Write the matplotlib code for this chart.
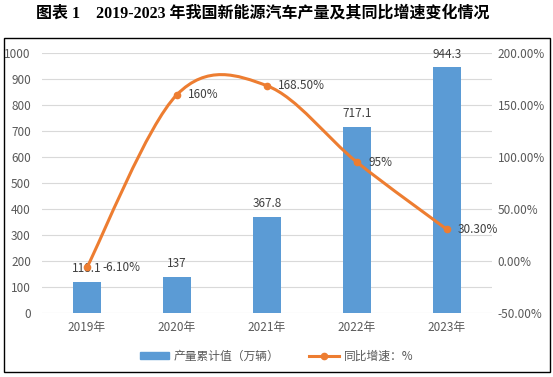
import numpy as np
import matplotlib
matplotlib.use("Agg")
import matplotlib.pyplot as plt
from matplotlib.path import Path
from matplotlib.patches import PathPatch, Rectangle
from matplotlib.lines import Line2D
from matplotlib.patches import Patch

plt.rcParams['font.family'] = ['Noto Sans CJK SC', 'DejaVu Sans']

years = ['2019年', '2020年', '2021年', '2022年', '2023年']
output = [118.1, 137, 367.8, 717.1, 944.3]          # 产量累计值（万辆）
growth = [-6.1, 160, 168.5, 95, 30.3]               # 同比增速 %
growth_labels = ['-6.10%', '160%', '168.50%', '95%', '30.30%']
left_ticks = list(range(0, 1001, 100))
right_ticks = [-50, 0, 50, 100, 150, 200]

bar_color = '#5B9BD5'
line_color = '#ED7D31'
text_color = '#595959'

fig = plt.figure(figsize=(5.53, 3.77), dpi=100)

# outer frame
fig.patches.append(Rectangle((4 / 553, 1 - 372 / 377), 546 / 553, 334 / 377,
                             transform=fig.transFigure, fill=False,
                             edgecolor='black', linewidth=1.0))

fig.text(263 / 553, 1 - 14 / 377, '图表 1    2019-2023 年我国新能源汽车产量及其同比增速变化情况',
         ha='center', va='center', fontsize=11.5, fontweight='bold', color='black',
         family=['Liberation Serif', 'Noto Sans CJK SC'])

ax = fig.add_axes([42 / 553, 1 - 313 / 377, 450 / 553, 260 / 377])
x = np.arange(len(years))
ax.bar(x, output, width=0.31, color=bar_color, zorder=2)
ax.set_xlim(-0.5, len(years) - 0.5)
ax.set_ylim(0, 1000)
ax.set_yticks(left_ticks)
ax.grid(axis='y', color='#D9D9D9', linewidth=0.8, zorder=0)
ax.set_axisbelow(True)
for s in ax.spines.values():
    s.set_visible(False)
ax.tick_params(length=0, labelsize=8.5, colors=text_color, pad=6)
ax.set_xticks(x)
ax.set_xticklabels(years)
ax.tick_params(axis='y', pad=8)
for xi, v in zip(x, output):
    ax.annotate(f'{v:g}', (xi, v), xytext=(0, 5), textcoords='offset points',
                ha='center', va='bottom', fontsize=8.5, color='#404040', zorder=5)

ax2 = ax.twinx()
ax2.set_ylim(-50, 200)
ax2.set_yticks(right_ticks)
ax2.set_yticklabels([f'{t:.2f}%' for t in right_ticks])
for s in ax2.spines.values():
    s.set_visible(False)
ax2.tick_params(length=0, labelsize=8.5, colors=text_color, pad=4)

# smoothed line (Catmull-Rom style bezier through the points)
pts = np.column_stack([x, growth]).astype(float)
ext = np.vstack([pts[0], pts, pts[-1]])
verts = [tuple(pts[0])]
codes = [Path.MOVETO]
for i in range(len(pts) - 1):
    p0, p1, p2, p3 = ext[i], ext[i + 1], ext[i + 2], ext[i + 3]
    c1 = p1 + (p2 - p0) / 6
    c2 = p2 - (p3 - p1) / 6
    verts += [tuple(c1), tuple(c2), tuple(p2)]
    codes += [Path.CURVE4] * 3
ax2.add_patch(PathPatch(Path(verts, codes), facecolor='none', edgecolor=line_color,
                        linewidth=2.2, capstyle='round', zorder=3))
ax2.plot(x, growth, linestyle='none', marker='o', markersize=4.5,
         color=line_color, zorder=4)
for i, (xi, v, lab) in enumerate(zip(x, growth, growth_labels)):
    dx = 11 if i == 0 else 8   # first label sits next to the bar label
    ax2.annotate(lab, (xi, v), xytext=(dx, 0), textcoords='offset points',
                 ha='left', va='center', fontsize=8.5, color='#404040', zorder=5)

handles = [Patch(color=bar_color),
           Line2D([], [], color=line_color, linewidth=2.2, marker='o', markersize=4.5)]
fig.legend(handles, ['产量累计值（万辆）', '同比增速：%'], loc='center',
           bbox_to_anchor=(0.5, 1 - 356 / 377), ncol=2, frameon=False,
           fontsize=8.5, labelcolor=text_color, handlelength=2.5, handleheight=0.5,
           columnspacing=2.5, handletextpad=0.4)

fig.savefig('out.png', dpi=100)
